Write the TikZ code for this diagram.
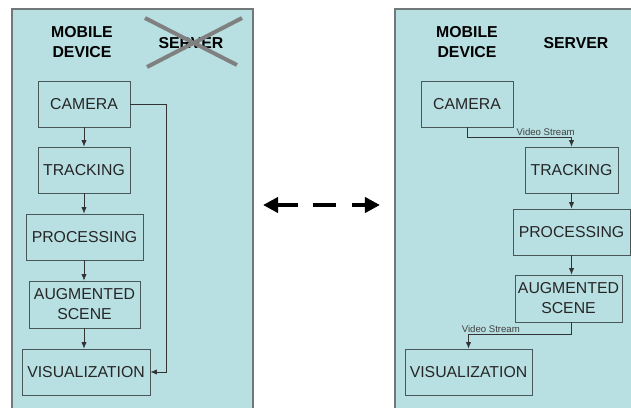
\documentclass[tikz,border=0pt]{standalone}
\usepackage{fontspec}
\setmainfont{Liberation Sans}
\usetikzlibrary{arrows.meta}
\definecolor{panelBlue}{RGB}{184,223,226}
\definecolor{panelEdge}{RGB}{112,120,120}
\definecolor{boxEdge}{RGB}{72,88,88}
\definecolor{crossGray}{RGB}{128,128,128}

\begin{document}
\begin{tikzpicture}[x=0.03cm, y=-0.03cm,
  stage/.style={draw=boxEdge, line width=0.8pt, text=black!85, font=\fontsize{13.5}{17}\selectfont, align=center, minimum height=1.38cm, inner sep=2pt},
  head/.style={font=\bfseries\fontsize{13.5}{17}\selectfont, align=center},
  flow/.style={-{Latex[length=5.5pt,width=4.5pt]}, draw=black!80, line width=0.6pt},
  note/.style={font=\fontsize{8.2}{9}\selectfont, text=black!75, inner sep=1pt},
  swap/.style={black, line width=3.6pt}]
\useasboundingbox (0,0) rectangle (631,407);
\fill[white] (0,0) rectangle (631,407);
\draw[panelEdge, fill=panelBlue, line width=1.2pt] (12,9) rectangle (253,420);
\draw[panelEdge, fill=panelBlue, line width=1.2pt] (395,9) rectangle (650,420);

% all on the device
\node[head] (lmob) at (82,42) {MOBILE\\DEVICE};
\node[head] (lsrv) at (191,43) {SERVER};
\draw[crossGray, line width=3.4pt] (145,18) -- (237,65) (242,18) -- (147,67);

\node[stage, minimum width=2.76cm] (lcam) at (84,104) {CAMERA};
\node[stage, minimum width=2.76cm] (ltrack) at (84,170) {TRACKING};
\node[stage, minimum width=3.51cm] (lproc) at (84.5,237) {PROCESSING};
\node[stage, minimum width=3.33cm, minimum height=1.41cm] (laug) at (84.5,304.5) {AUGMENTED\\SCENE};
\node[stage, minimum width=3.84cm] (lvis) at (86,372) {VISUALIZATION};

\draw[flow] (lcam) -- (ltrack);
\draw[flow] (ltrack.south) -- (ltrack.south |- lproc.north);
\draw[flow] (ltrack.south |- lproc.south) -- (ltrack.south |- laug.north);
\draw[flow] (ltrack.south |- laug.south) -- (ltrack.south |- lvis.north);
\draw[flow] (lcam.east) -- ++(36,0) |- (lvis.east);

% split between device and server
\node[head] (rmob) at (467,42) {MOBILE\\DEVICE};
\node[head] (rsrv) at (576,43) {SERVER};

\node[stage, minimum width=2.76cm] (rcam) at (467,104) {CAMERA};
\node[stage, minimum width=2.79cm] (rtrack) at (571.5,170) {TRACKING};
\node[stage, minimum width=3.51cm] (rproc) at (571.5,232) {PROCESSING};
\node[stage, minimum width=3.21cm, minimum height=1.41cm] (raug) at (568.5,298.5) {AUGMENTED\\SCENE};
\node[stage, minimum width=3.81cm] (rvis) at (468.5,372) {VISUALIZATION};

\draw[flow] (rcam.south) -- ++(0,10) -| node[note, pos=0.5, anchor=south east, xshift=4pt] {Video Stream} (rtrack.north);
\draw[flow] (rtrack) -- (rproc);
\draw[flow] (rproc.south) -- (rproc.south |- raug.north);
\draw[flow] (rproc.south |- raug.south) -- ++(0,12) -| node[note, pos=0.5, anchor=south west, xshift=-7pt] {Video Stream} (rvis.north);

% swap arrow
\draw[swap, -{Triangle[length=13pt,width=13pt]}] (298,205) -- (263,205);
\draw[swap] (313,205) -- (336,205);
\draw[swap, -{Triangle[length=13pt,width=13pt]}] (352,205) -- (380,205);
\end{tikzpicture}
\end{document}
